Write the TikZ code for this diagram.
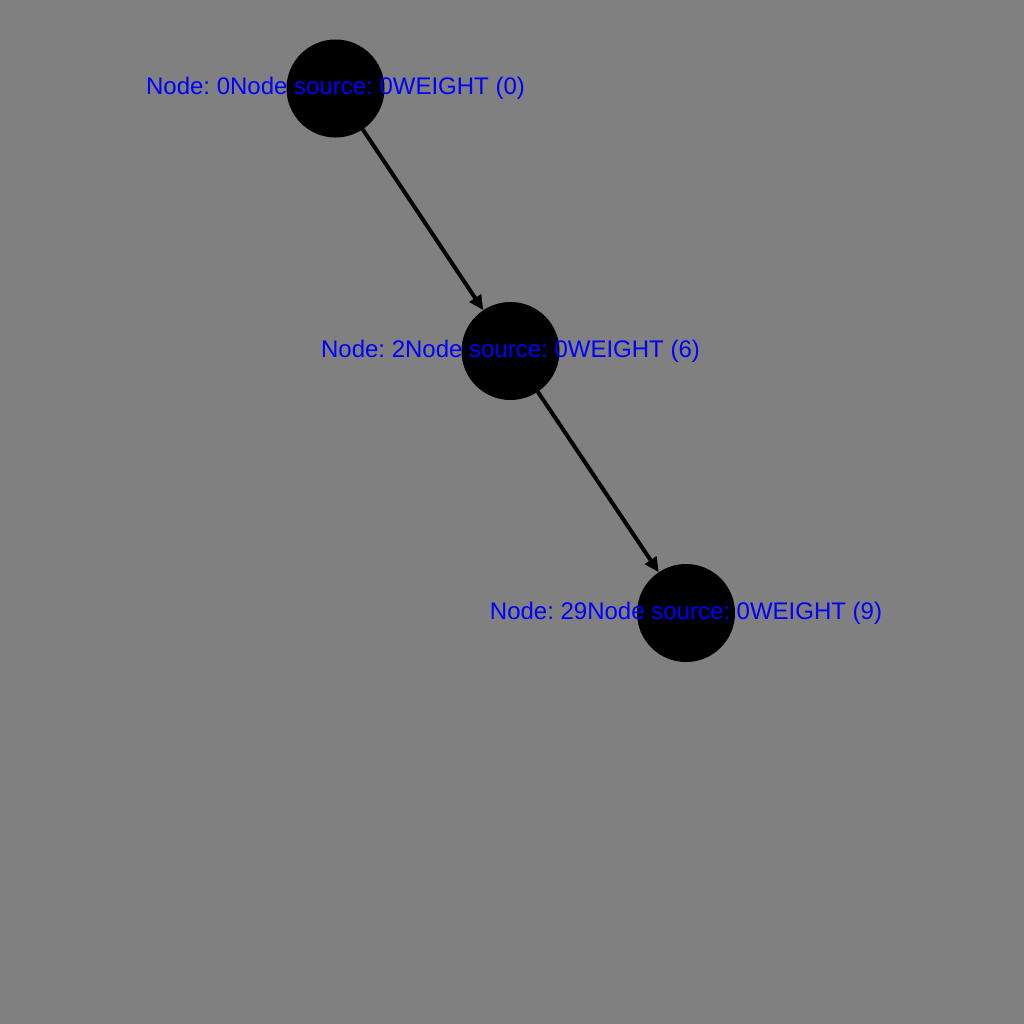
\documentclass[tikz,border=0pt]{standalone}
\usepackage{fontspec}
\setmainfont{Liberation Sans}
\usetikzlibrary{arrows.meta}
\definecolor{bggray}{RGB}{128,128,128}

\begin{document}
\frenchspacing
\begin{tikzpicture}[x=0.75pt, y=-0.75pt,
		vertex/.style={circle, fill=black, minimum size=73.5pt, inner sep=0pt, outer sep=0pt},
		vlabel/.style={text=blue, font=\fontsize{18}{20}\selectfont, inner sep=0pt},
		edge/.style={line width=3pt, -{Triangle[length=11pt, width=10pt]}}]
		% Draw the background
		\fill[bggray] (0,0) rectangle (1024,1024);
		\useasboundingbox (0,0) rectangle (1024,1024);

		% Draw the vertices
		\foreach \name/\x/\y in {0/335.5/88.5, 2/510.5/351, 29/686/613} {
			\node[vertex] (v\name) at (\x,\y) {};
		}

		% Connect them
		\draw[edge] (v0) -- (v2);
		\draw[edge] (v2) -- (v29);

		% Add the labels
		\foreach \name/\w in {0/0, 2/6, 29/9} {
			\node[vlabel] (l\name) at (v\name) {Node: \name Node source: 0WEIGHT (\w)};
		}
	\end{tikzpicture}
\end{document}
